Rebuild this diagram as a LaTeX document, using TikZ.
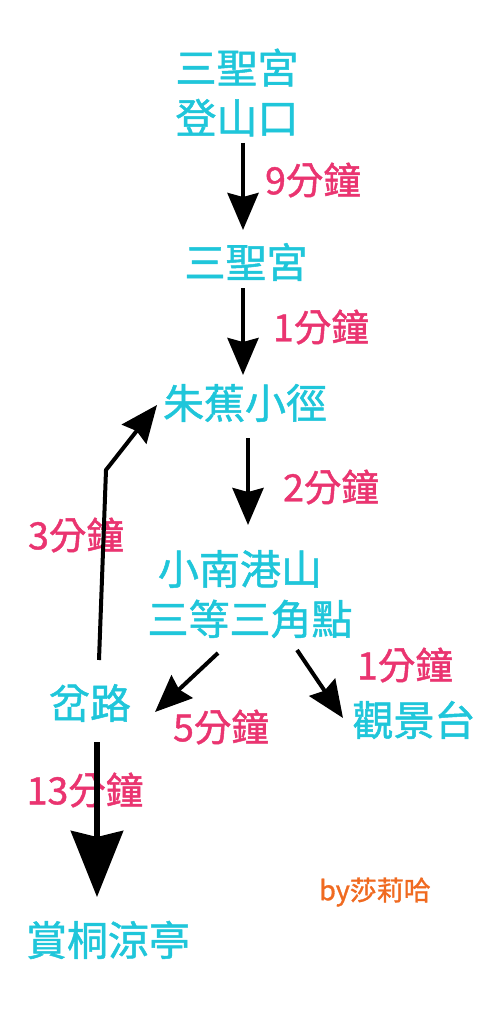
\documentclass[tikz,border=0pt]{standalone}
\usepackage{fontspec}
\setmainfont[FakeBold=1.2]{Noto Sans CJK TC}
\usetikzlibrary{arrows.meta,calc}
\definecolor{cy}{HTML}{1FC6DA}
\definecolor{pk}{HTML}{EA3470}
\definecolor{og}{HTML}{F06A20}
\begin{document}
\begin{tikzpicture}[x=1pt,y=-1pt,
  place/.style={text=cy,font=\fontsize{41}{50}\selectfont,inner sep=0pt,align=center},
  lab/.style={text=pk,font=\fontsize{37.5}{40}\selectfont,inner sep=0pt},
  arr/.style={line width=4pt,-{Stealth[length=37pt,width=31pt,inset=4pt]}},
  bigarr/.style={line width=6pt,-{Stealth[length=66pt,width=52pt,inset=6pt]}}]
\path[use as bounding box,fill=white] (0,0) rectangle (499,1024);
% places
\node[place] (n1) at (237,92.5) {三聖宮\\登山口};
\node[place] (n2) at (246,262) {三聖宮};
\node[place] (n3) at (245,403) {朱蕉小徑};
\node[place] (n4) at (250,594) {小南港山\hspace*{20pt}\\三等三角點};
\node[place] (n5) at (90,703) {岔路};
\node[place] (n6) at (414,720) {觀景台};
\node[place] (n7) at (108,940) {賞桐涼亭};
% labels
\node[lab] (l1) at (313,180) {9分鐘};
\node[lab] (l2) at (321,327) {1分鐘};
\node[lab] (l3) at (331,487) {2分鐘};
\node[lab] (l4) at (405,665) {1分鐘};
\node[lab] (l5) at (221,727) {5分鐘};
\node[lab] (l6) at (76,535) {3分鐘};
\node[lab] (l7) at (85,790) {13分鐘};
\node[text=og,font=\fontsize{27}{30}\selectfont,inner sep=0pt] (by) at (375,892) {by莎莉哈};
% connectors
\coordinate (k) at (106,470);
\draw[arr] ($(n1)+(6,50.5)$) -- ($(n2)+(-3,-32)$);
\draw[arr] ($(n2)+(-3,26)$) -- ($(n3)+(-2,-28)$);
\draw[arr] ($(n3)+(3,35)$) -- ($(n4)+(-2,-69)$);
\draw[arr] ($(n4)+(-32,59)$) -- ($(n5)+(65,9)$);
\draw[arr] ($(n4)+(47,56)$) -- ($(n6)+(-71,-2)$);
\draw[arr] ($(n5)+(9,-43)$) -- (k) -- ($(n3)+(-88,2)$);
\draw[bigarr] ($(n5)+(7,39)$) -- ($(n7)+(-11,-43)$);
\end{tikzpicture}
\end{document}
